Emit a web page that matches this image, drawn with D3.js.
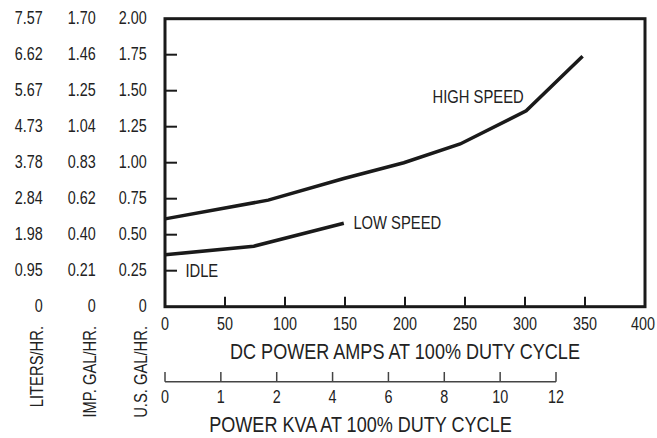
<!DOCTYPE html>
<html>
<head>
<meta charset="utf-8">
<script src="https://cdn.jsdelivr.net/npm/d3@7"></script>
<style>
  html, body { margin: 0; padding: 0; background: #fff; }
  svg text { font-family: "Liberation Sans", Arial, sans-serif; fill: #222; }
</style>
</head>
<body>
<div id="chart"></div>
<script>
// fuel consumption data (US gal/hr vs DC amps)
const highAmps = [0, 86, 149, 199, 246, 301, 348];
const highGal = [0.61, 0.74, 0.89, 1.00, 1.13, 1.36, 1.74];
const lowAmps = [0, 74, 149];
const lowGal = [0.36, 0.42, 0.58];

// axis ticks and alternate unit labels
const galTicks = [0, 0.25, 0.5, 0.75, 1.0, 1.25, 1.5, 1.75, 2.0];
const impLabels = ["0", "0.21", "0.40", "0.62", "0.83", "1.04", "1.25", "1.46", "1.70"];
const literLabels = ["0", "0.95", "1.98", "2.84", "3.78", "4.73", "5.67", "6.62", "7.57"];
const ampTicks = [0, 50, 100, 150, 200, 250, 300, 350, 400];
const kvaLabels = ["0", "1", "2", "4", "6", "8", "10", "12"];

// curve annotations (anchor in data units)
const curveNames = ["HIGH SPEED", "LOW SPEED", "IDLE"];
const curveNameAmps = [223, 157, 17];
const curveNameGal = [1.414, 0.538, 0.206];

document.addEventListener("DOMContentLoaded", () => {
  const width = 657;
  const height = 438;
  const left = 165, right = 645, top = 18.7, bottom = 306.7;

  const svg = d3.select("#chart")
    .append("svg")
    .attr("width", width)
    .attr("height", height);

  const x = d3.scaleLinear().domain([0, 400]).range([left, right]);
  const y = d3.scaleLinear().domain([0, 2]).range([bottom, top]);
  const kva = d3.scalePoint().domain(kvaLabels).range([left, 556]);

  // frame
  svg.append("rect")
    .attr("x", left)
    .attr("y", top)
    .attr("width", right - left)
    .attr("height", bottom - top)
    .attr("fill", "none")
    .attr("stroke", "#1a1a1a")
    .attr("stroke-width", 3);

  // inner ticks on left
  svg.selectAll(".ytick")
    .data(galTicks.slice(1, -1))
    .join("line")
    .attr("x1", left)
    .attr("x2", left + 12)
    .attr("y1", d => y(d))
    .attr("y2", d => y(d))
    .attr("stroke", "#1a1a1a")
    .attr("stroke-width", 2);

  // inner ticks on bottom
  svg.selectAll(".xtick")
    .data(ampTicks.slice(1, -1))
    .join("line")
    .attr("x1", d => x(d))
    .attr("x2", d => x(d))
    .attr("y1", bottom)
    .attr("y2", bottom - 10)
    .attr("stroke", "#1a1a1a")
    .attr("stroke-width", 2);

  // three columns of y labels
  const cols = [
    { labels: literLabels, xr: 42.7, title: "LITERS/HR." },
    { labels: impLabels, xr: 95.7, title: "IMP. GAL/HR." },
    { labels: galTicks.map(d => d === 0 ? "0" : d.toFixed(2)), xr: 146.7, title: "U.S. GAL/HR." }
  ];
  cols.forEach(c => {
    svg.append("g")
      .selectAll("text")
      .data(c.labels)
      .join("text")
      .attr("x", c.xr)
      .attr("y", (d, i) => y(galTicks[i]))
      .attr("dy", "0.3em")
      .attr("text-anchor", "end")
      .attr("font-size", 17.5)
      .text(d => d);

    svg.append("text")
      .attr("transform", `translate(${c.xr},326) rotate(-90)`)
      .attr("text-anchor", "end")
      .attr("font-size", 18)
      .text(c.title);
  });

  // x labels (amps) - last one kept inside the window
  svg.append("g")
    .selectAll("text")
    .data(ampTicks)
    .join("text")
    .attr("x", (d, i) => i === ampTicks.length - 1 ? width - 2 : x(d))
    .attr("y", 330)
    .attr("text-anchor", (d, i) => i === ampTicks.length - 1 ? "end" : "middle")
    .attr("font-size", 17.5)
    .text(d => d);

  svg.append("text")
    .attr("x", (left + right) / 2)
    .attr("y", 359)
    .attr("text-anchor", "middle")
    .attr("font-size", 22)
    .text("DC POWER AMPS AT 100% DUTY CYCLE");

  // secondary KVA axis
  const kvaAxis = svg.append("g").attr("stroke", "#444").attr("stroke-width", 1.5);
  kvaAxis.append("line")
    .attr("x1", kva.range()[0])
    .attr("x2", kva.range()[1])
    .attr("y1", 381.7)
    .attr("y2", 381.7);
  kvaAxis.selectAll(".ktick")
    .data(kvaLabels)
    .join("line")
    .attr("x1", d => kva(d))
    .attr("x2", d => kva(d))
    .attr("y1", 381.7)
    .attr("y2", 372);

  svg.append("g")
    .selectAll("text")
    .data(kvaLabels)
    .join("text")
    .attr("x", d => kva(d))
    .attr("y", 403)
    .attr("text-anchor", "middle")
    .attr("font-size", 17.5)
    .text(d => d);

  svg.append("text")
    .attr("x", (kva.range()[0] + kva.range()[1]) / 2)
    .attr("y", 432)
    .attr("text-anchor", "middle")
    .attr("font-size", 22)
    .text("POWER KVA AT 100% DUTY CYCLE");

  // curves
  const line = d3.line().x(d => x(d[0])).y(d => y(d[1]));
  [d3.zip(highAmps, highGal), d3.zip(lowAmps, lowGal)].forEach(pts => {
    svg.append("path")
      .attr("d", line(pts))
      .attr("fill", "none")
      .attr("stroke", "#1a1a1a")
      .attr("stroke-width", 3.5);
  });

  // curve names
  svg.append("g")
    .selectAll("text")
    .data(curveNames)
    .join("text")
    .attr("x", (d, i) => x(curveNameAmps[i]))
    .attr("y", (d, i) => y(curveNameGal[i]))
    .attr("font-size", 18)
    .text(d => d);

  // narrow the type, like a condensed face
  svg.selectAll("text").each(function () {
    const len = this.getComputedTextLength();
    d3.select(this)
      .attr("textLength", len * 0.82)
      .attr("lengthAdjust", "spacingAndGlyphs");
  });
});
</script>
</body>
</html>
